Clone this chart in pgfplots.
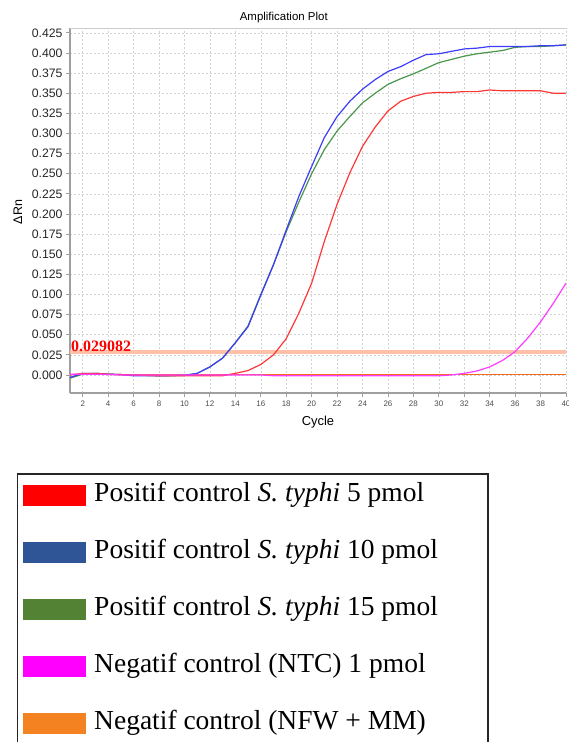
\documentclass[border=0pt]{standalone}
\usepackage{pgfplots}
\pgfplotsset{compat=1.18}
\usepackage{fontspec}
\setmainfont{Liberation Sans}
\newfontfamily\serif{Liberation Serif}

% line colours of the plot
\definecolor{cred}{RGB}{255,55,55}
\definecolor{cblue}{RGB}{60,60,250}
\definecolor{cgreen}{RGB}{75,150,75}
\definecolor{cmag}{RGB}{255,60,255}
\definecolor{corange}{RGB}{240,110,30}
\definecolor{cthr}{RGB}{255,192,168}
% legend swatches
\definecolor{lred}{RGB}{255,0,0}
\definecolor{lblue}{RGB}{47,85,151}
\definecolor{lgreen}{RGB}{84,130,53}
\definecolor{lmag}{RGB}{255,0,255}
\definecolor{lorange}{RGB}{245,130,32}

\newcommand{\swatch}[1]{\addlegendimage{legend image code/.code={\fill[#1] (0bp,-10bp) rectangle (62bp,10bp);}}}
\newcommand{\lt}[1]{\makebox[387bp][l]{#1}}

\begin{document}
\begin{tikzpicture}
\useasboundingbox (0,0) rectangle (569bp,-742bp);
\begin{axis}[
    at={(70bp,-28bp)}, anchor=north west,
    width=496bp, height=365bp, scale only axis,
    xmin=1, xmax=40,
    ymin=-0.0224, ymax=0.431,
    xtick={2,4,...,40},
    ytick={0,0.025,0.05,0.075,0.1,0.125,0.15,0.175,0.2,0.225,0.25,0.275,0.3,0.325,0.35,0.375,0.4,0.425},
    /pgf/number format/assume math mode=true,
    yticklabel style={/pgf/number format/fixed, /pgf/number format/fixed zerofill, /pgf/number format/precision=3},
    yticklabel style={font=\fontsize{12.3}{14}\selectfont, text=black!85},
    xticklabel style={font=\fontsize{8}{9}\selectfont, text=black!70},
    axis x line*=bottom, axis y line*=left,
    axis line style={-, gray!75, line width=1.2bp},
    tick style={gray!75, line width=0.8bp},
    major tick length=4bp, tick align=outside,
    grid=major,
    major grid style={gray!35, line width=0.5bp, dash pattern=on 2bp off 2bp},
    title={Amplification Plot},
    title style={font=\fontsize{11.5}{13}\selectfont, at={(rel axis cs:0.431,1.011)}, anchor=center},
    xlabel={Cycle},
    xlabel style={font=\fontsize{13}{15}\selectfont, at={(rel axis cs:0.5,-0.079)}, anchor=center},
    ylabel={ΔRn},
    ylabel style={font=\fontsize{12.5}{14}\selectfont, at={(rel axis cs:-0.105,0.496)}, anchor=center},
    legend style={at={(rel axis cs:-0.1069,-0.2192)}, anchor=north west,
        draw=black!85, line width=1.5bp, fill=white,
        font=\serif\fontsize{27.6}{32}\selectfont,
        inner xsep=5bp, inner ysep=6bp, row sep=26bp, column sep=6bp,
        nodes={text height=20bp, text depth=7bp, inner sep=2bp}},
    legend cell align=left,
]
\swatch{lred}
\swatch{lblue}
\swatch{lgreen}
\swatch{lmag}
\swatch{lorange}
\legend{
  \lt{Positif control \textit{S. typhi} 5 pmol},
  \lt{Positif control \textit{S. typhi} 10 pmol},
  \lt{Positif control \textit{S. typhi} 15 pmol},
  \lt{Negatif control (NTC) 1 pmol},
  \lt{Negatif control (NFW + MM)}}

% NFW + MM
\addplot[corange, line width=1bp, forget plot] coordinates {
(1,0) (5,0) (10,0) (15,0) (20,0) (25,0) (30,0) (35,0) (40,0)};

% threshold
\addplot[cthr, line width=4bp, forget plot] coordinates {(1,0.029082) (40,0.029082)};

% 15 pmol
\addplot[cgreen, line width=1.2bp, forget plot] coordinates {
(1,-0.004) (2,0.001) (3,0.002) (4,0.001) (5,0.0005) (6,0) (7,-0.0005) (8,-0.001) (9,-0.001) (10,-0.0005)
(11,0.002) (12,0.010) (13,0.021) (14,0.040) (15,0.061) (16,0.100) (17,0.137) (18,0.178) (19,0.215) (20,0.250)
(21,0.280) (22,0.303) (23,0.321) (24,0.338) (25,0.350) (26,0.361) (27,0.368) (28,0.374) (29,0.381) (30,0.388)
(31,0.392) (32,0.396) (33,0.399) (34,0.401) (35,0.403) (36,0.407) (37,0.408) (38,0.408) (39,0.409) (40,0.410)};

% 10 pmol
\addplot[cblue, line width=1.2bp, forget plot] coordinates {
(1,-0.003) (2,0.002) (3,0.002) (4,0.001) (5,0.0005) (6,-0.001) (7,-0.001) (8,-0.001) (9,-0.0008) (10,-0.0005)
(11,0.002) (12,0.010) (13,0.021) (14,0.040) (15,0.060) (16,0.099) (17,0.137) (18,0.180) (19,0.222) (20,0.259)
(21,0.295) (22,0.321) (23,0.340) (24,0.355) (25,0.367) (26,0.377) (27,0.383) (28,0.391) (29,0.398) (30,0.399)
(31,0.402) (32,0.405) (33,0.406) (34,0.408) (35,0.408) (36,0.408) (37,0.408) (38,0.409) (39,0.409) (40,0.410)};

% 5 pmol
\addplot[cred, line width=1.2bp, forget plot] coordinates {
(1,0.000) (2,0.002) (3,0.002) (4,0.001) (5,0.0005) (6,0) (7,-0.0005) (8,-0.001) (9,-0.001) (10,-0.001)
(11,-0.001) (12,-0.001) (13,-0.001) (14,0.002) (15,0.0055) (16,0.013) (17,0.025) (18,0.045) (19,0.077) (20,0.114)
(21,0.166) (22,0.212) (23,0.251) (24,0.284) (25,0.308) (26,0.328) (27,0.340) (28,0.346) (29,0.350) (30,0.351)
(31,0.351) (32,0.352) (33,0.352) (34,0.354) (35,0.353) (36,0.353) (37,0.353) (38,0.353) (39,0.350) (40,0.350)};

% NTC
\addplot[cmag, line width=1.2bp, forget plot] coordinates {
(1,0.001) (2,0.001) (3,0.001) (4,0.0005) (5,0) (6,0) (7,0) (8,0) (9,0) (10,0)
(11,0) (12,0) (13,0) (14,0) (15,0) (16,0) (17,-0.001) (18,-0.001) (19,-0.001) (20,-0.001)
(21,-0.001) (22,-0.001) (23,-0.001) (24,-0.001) (25,-0.001) (26,-0.001) (27,-0.001) (28,-0.001) (29,-0.001) (30,-0.001)
(31,0) (32,0.002) (33,0.005) (34,0.010) (35,0.018) (36,0.029) (37,0.046) (38,0.066) (39,0.089) (40,0.114)};

\draw[gray!40, line width=0.8bp] (rel axis cs:0,1) -- (rel axis cs:1,1) -- (rel axis cs:1,0);
\node[anchor=south west, inner sep=0pt, xshift=1bp, text=red, font=\serif\bfseries\fontsize{16}{18}\selectfont]
  at (axis cs:1,0.029082) {0.029082};
\end{axis}
\end{tikzpicture}
\end{document}
